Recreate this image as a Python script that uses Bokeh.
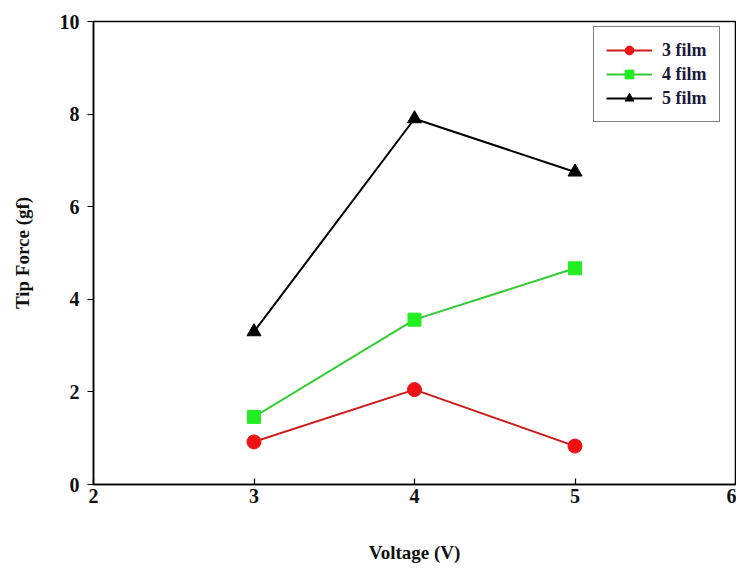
from bokeh.plotting import figure
from bokeh.models import Range1d, FixedTicker, Legend, LegendItem
from bokeh.embed import file_html
from bokeh.resources import INLINE

voltage = [3, 4, 5]
film3 = [0.92, 2.05, 0.83]
film4 = [1.46, 3.56, 4.67]
film5 = [3.30, 7.90, 6.75]
x_ticks = [2, 3, 4, 5, 6]
y_ticks = [0, 2, 4, 6, 8, 10]

FONT = "Liberation Serif"

p = figure(width=736, height=572, output_backend="svg", toolbar_location=None,
           x_range=Range1d(2, 6), y_range=Range1d(0, 10),
           min_border_left=93, min_border_right=1, min_border_top=21, min_border_bottom=88)
p.grid.visible = False
p.outline_line_color = "black"
p.outline_line_width = 1.5
p.background_fill_color = "white"
p.border_fill_color = "white"

for ax in (p.xaxis[0], p.yaxis[0]):
    ax.major_label_text_font = FONT
    ax.major_label_text_font_style = "bold"
    ax.major_label_text_font_size = "20px"
    ax.major_label_text_color = "#111111"
    ax.axis_label_text_font = FONT
    ax.axis_label_text_font_style = "bold"
    ax.axis_label_text_font_size = "19px"
    ax.axis_label_text_color = "#111111"
    ax.minor_tick_line_color = None
    ax.axis_line_width = 1.5
    ax.major_tick_line_width = 1.2

p.xaxis.ticker = FixedTicker(ticks=x_ticks)
p.yaxis.ticker = FixedTicker(ticks=y_ticks)
p.xaxis.major_tick_in = 6
p.xaxis.major_tick_out = 0
p.yaxis.major_tick_in = 0
p.yaxis.major_tick_out = 6
p.xaxis.axis_label = "Voltage (V)"
p.yaxis.axis_label = "Tip Force (gf)"
p.xaxis.axis_label_standoff = 36
p.yaxis.axis_label_standoff = 24
p.xaxis.major_label_standoff = 4
p.yaxis.major_label_standoff = 8

l3 = p.line(voltage, film3, line_color="#d01818", line_width=2)
m3 = p.scatter(voltage, film3, marker="circle", size=14, fill_color="#ee1111", line_color="#ee1111")
l4 = p.line(voltage, film4, line_color="#33cc33", line_width=2)
m4 = p.scatter(voltage, film4, marker="square", size=13, fill_color="#22ee22", line_color="#22ee22")
l5 = p.line(voltage, film5, line_color="black", line_width=2)
m5 = p.scatter(voltage, film5, marker="triangle", size=14, fill_color="black", line_color="black")

legend = Legend(items=[
    LegendItem(label="3 film", renderers=[l3, m3]),
    LegendItem(label="4 film", renderers=[l4, m4]),
    LegendItem(label="5 film", renderers=[l5, m5]),
], location=(500, 362))
legend.label_text_font = FONT
legend.label_text_font_style = "bold"
legend.label_text_font_size = "18px"
legend.label_text_color = "#1a1a3a"
legend.glyph_width = 46
legend.glyph_height = 22
legend.label_height = 22
legend.label_standoff = 10
legend.spacing = 2
legend.padding = 12
legend.border_line_color = "black"
legend.border_line_width = 1.5
legend.background_fill_alpha = 1
p.add_layout(legend, "center")

open("out.html", "w").write(file_html(p, INLINE))
